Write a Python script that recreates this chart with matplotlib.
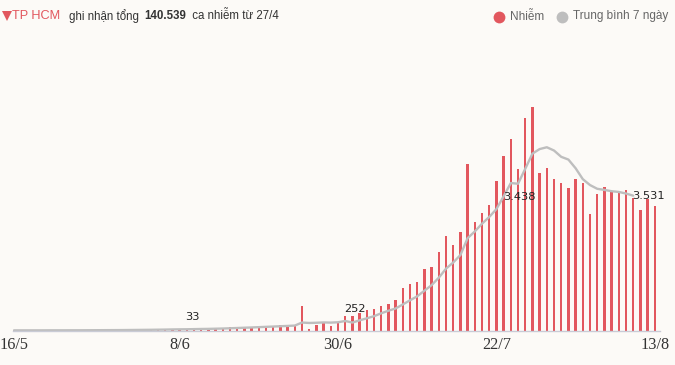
import matplotlib
matplotlib.use("Agg")
import matplotlib.pyplot as plt
from matplotlib.lines import Line2D

# ---------------- data ----------------
tick_days = [0, 23, 45, 67, 89]
tick_labels = ["16/5", "8/6", "30/6", "22/7", "13/8"]

# daily new cases, 16/5 .. 13/8 (90 days)
cases = [4, 2, 6, 3, 5, 8, 4, 6, 9, 5,
         12, 10, 14, 11, 16, 18, 20, 24, 22, 28,
         33, 38, 42, 43, 42, 45, 55, 60, 70, 80,
         90, 95, 100, 110, 120, 130, 140, 150, 160, 170,
         710, 40, 170, 200, 115, 230, 425, 400, 485, 570,
         625, 685, 740, 880, 1195, 1310, 1365, 1740, 1795, 2220,
         2675, 2420, 2790, 4725, 3075, 3330, 3560, 4240, 4955, 5440,
         4585, 6035, 6350, 4470, 4610, 4300, 4185, 4045, 4300, 4185,
         3300, 3870, 4070, 3930, 3900, 3985, 3760, 3415, 3730, 3531]

# 7-day average as drawn (16/5 .. 10/8)
avg7 = [4, 4, 4, 4, 4, 5, 5, 5, 6, 6,
        7, 8, 9, 10, 11, 12, 14, 16, 18, 20,
        23, 26, 30, 33, 35, 39, 43, 46, 51, 56,
        63, 71, 79, 86, 95, 104, 112, 121, 130, 140,
        226, 214, 220, 229, 224, 234, 270, 226, 289, 346,
        407, 489, 561, 626, 740, 858, 971, 1131, 1289, 1501,
        1757, 1932, 2144, 2624, 2814, 3034, 3225, 3449, 3811, 4189,
        4169, 4592, 5024, 5154, 5206, 5113, 4934, 4856, 4609, 4299,
        4132, 4026, 3994, 3957, 3936, 3891, 3831]

label_days = [23, 45, 67, 86]
label_texts = ["33", "252", "3.438", "3.531"]

title_red = "TP HCM"
title_pre = "ghi nhận tổng "
title_total = "140.539"
title_post = " ca nhiễm từ 27/4"
legend_labels = ["Nhiễm", "Trung bình 7 ngày"]

# ---------------- style ----------------
BG = "#FCFAF7"
RED = "#E2575E"
GRAY = "#BEBEBE"
W, H = 675, 365

fig = plt.figure(figsize=(W / 100, H / 100), dpi=100, facecolor=BG)
base_y = 330.5
top_y = 100
ax = fig.add_axes([13 / W, (H - base_y) / H, (660 - 13) / W, (base_y - top_y) / H])
ax.set_facecolor(BG)
ax.set_xlim(-0.14, 89.72)
ax.set_ylim(0, (base_y - top_y) / 0.0352)

days = list(range(len(cases)))
ax.bar(days, cases, width=0.33, color=RED, zorder=2)
ax.plot(list(range(len(avg7))), avg7, color=GRAY, lw=1.7, zorder=3,
        solid_capstyle="round", solid_joinstyle="round")

for s in ["top", "right", "left"]:
    ax.spines[s].set_visible(False)
ax.spines["bottom"].set_color("#C9CBD6")
ax.spines["bottom"].set_linewidth(1.0)
ax.spines["bottom"].set_zorder(4)
ax.set_yticks([])
ax.set_xticks(tick_days)
ax.set_xticklabels(tick_labels, fontfamily="Liberation Serif", fontsize=11.7, color="#333333")
ax.tick_params(axis="x", length=0, pad=4.5)

offsets = [(6, 12), (6, 13), (6.5, 12), (-1, 0)]
for d, t, (dx, dy) in zip(label_days, label_texts, offsets):
    ax.annotate(t, xy=(d, avg7[d]), xytext=(dx, dy), textcoords="offset pixels",
                ha="left", va="center", fontsize=8.2, fontfamily="DejaVu Sans",
                color="#222222", zorder=5)

# ---------------- header ----------------
def fx(px):
    return px / W

def fy(py):
    return 1 - py / H

fig.add_artist(Line2D([fx(6.5)], [fy(15.5)], marker="v", markersize=6.5, color=RED,
                      markeredgewidth=0, transform=fig.transFigure))
fig.text(fx(12.5), fy(16), title_red, fontsize=9.2, color=RED, fontfamily="Liberation Sans",
         ha="left", va="center")
fig.text(fx(69), fy(16), title_pre, fontsize=8.3, color="#333333", fontfamily="Liberation Sans",
         ha="left", va="center")
fig.text(fx(144), fy(16), title_total, fontsize=8.3, color="#333333", fontweight="bold",
         fontfamily="Liberation Sans", ha="left", va="center")
fig.text(fx(189), fy(16), title_post, fontsize=8.3, color="#333333", fontfamily="Liberation Sans",
         ha="left", va="center")

# legend
for cx, col, lab, tx in [(499, RED, legend_labels[0], 510), (562, GRAY, legend_labels[1], 573)]:
    fig.add_artist(Line2D([fx(cx)], [fy(16.5)], marker="o", markersize=8.5, color=col,
                          markeredgewidth=0, transform=fig.transFigure))
    fig.text(fx(tx), fy(16.5), lab, fontsize=8.5, color="#666666", fontfamily="Liberation Sans",
             ha="left", va="center")

fig.savefig("out.png", dpi=100, facecolor=BG)
